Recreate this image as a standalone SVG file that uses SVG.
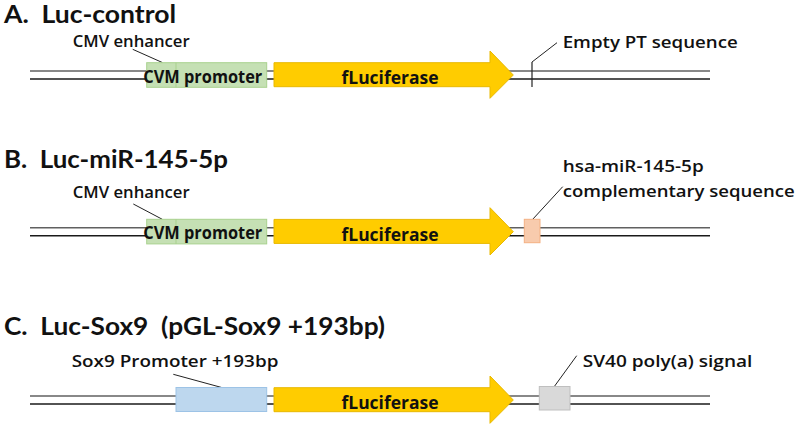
<svg xmlns="http://www.w3.org/2000/svg" width="800" height="427" viewBox="0 0 800 427">
<defs>
<style>
text{font-family:"Open Sans","Liberation Sans",sans-serif;fill:#111;white-space:pre}
.title{font-family:Lato,"Open Sans",sans-serif;font-size:24px;font-weight:700}
.lbl{font-size:16px;font-weight:600}
.box{font-size:17.5px;font-weight:700}
.s1{stroke:#606060;stroke-width:1.5}
.s2{stroke:#1a1a1a;stroke-width:1.5}
.lead{stroke:#222;stroke-width:1;fill:none}
.arrow{fill:#ffcc00;stroke:#e8b800;stroke-width:1}
.green{fill:#c5e0b4;stroke:#a9d18e;stroke-width:1}
.blue{fill:#bdd7ee;stroke:#9dc3e6;stroke-width:1}
.pink{fill:#f8cbad;stroke:#f4b183;stroke-width:1}
.gray{fill:#d9d9d9;stroke:#bfbfbf;stroke-width:1}
</style>
</defs>
<rect width="800" height="427" fill="#fff"/>

<g id="connectors">
<line class="s1" x1="30" y1="71" x2="710" y2="71"/>
<line class="s2" x1="30" y1="79" x2="710" y2="79"/>
<line class="s1" x1="30" y1="227.7" x2="710" y2="227.7"/>
<line class="s2" x1="30" y1="235.7" x2="710" y2="235.7"/>
<line class="s1" x1="30" y1="396" x2="710" y2="396"/>
<line class="s2" x1="30" y1="404" x2="710" y2="404"/>
<line class="lead" x1="132.7" y1="49.3" x2="162.3" y2="62.5"/>
<line class="lead" x1="532" y1="62" x2="557" y2="42.7"/>
<line class="lead" x1="133.3" y1="204" x2="162.3" y2="219.3"/>
<line class="lead" x1="532.7" y1="219.3" x2="562.7" y2="186.7"/>
<line class="lead" x1="173.3" y1="374.3" x2="221.7" y2="387.5"/>
<line class="lead" x1="554.3" y1="386.5" x2="576.7" y2="355.7"/>
</g>

<text class="title" x="4" y="23" textLength="172" lengthAdjust="spacingAndGlyphs">A.  Luc-control</text>
<text class="title" x="4" y="168" textLength="224" lengthAdjust="spacingAndGlyphs">B.  Luc-miR-145-5p</text>
<text class="title" x="4" y="335" textLength="381" lengthAdjust="spacingAndGlyphs">C.  Luc-Sox9  (pGL-Sox9 +193bp)</text>

<g id="a-promoter">
<rect class="green" x="146.7" y="62.7" width="120" height="24.6"/>
<line x1="176" y1="62.7" x2="176" y2="87.3" stroke="#a9d18e" stroke-width="1"/>
<text class="box" x="143.3" y="82.7" textLength="119" lengthAdjust="spacingAndGlyphs">CVM promoter</text>
<text class="lbl" x="72.7" y="46.7" textLength="117" lengthAdjust="spacingAndGlyphs">CMV enhancer</text>
</g>
<g id="a-luciferase">
<path class="arrow" d="M274,62.7 H490 V51 L513.3,75 L490,98.3 V86.7 H274 Z"/>
<text class="box" x="390" y="84.3" text-anchor="middle" textLength="97" lengthAdjust="spacingAndGlyphs">fLuciferase</text>
</g>
<g id="a-pt">
<line x1="532" y1="62" x2="532" y2="87" stroke="#222" stroke-width="1.2"/>
<text class="lbl" x="562.7" y="48" textLength="175" lengthAdjust="spacingAndGlyphs">Empty PT sequence</text>
</g>

<g id="b-promoter">
<rect class="green" x="146.7" y="219.3" width="120" height="24.6"/>
<line x1="176" y1="219.3" x2="176" y2="243.9" stroke="#a9d18e" stroke-width="1"/>
<text class="box" x="143.3" y="239.4" textLength="119" lengthAdjust="spacingAndGlyphs">CVM promoter</text>
<text class="lbl" x="72.7" y="198.3" textLength="117" lengthAdjust="spacingAndGlyphs">CMV enhancer</text>
</g>
<g id="b-luciferase">
<path class="arrow" d="M274,219.4 H490 V207.7 L513.3,231.7 L490,255 V243.4 H274 Z"/>
<text class="box" x="390" y="241" text-anchor="middle" textLength="97" lengthAdjust="spacingAndGlyphs">fLuciferase</text>
</g>
<g id="b-mir">
<rect class="pink" x="524.3" y="219.3" width="15.7" height="23.4"/>
<text class="lbl" x="562.7" y="171.7" textLength="141" lengthAdjust="spacingAndGlyphs">hsa-miR-145-5p</text>
<text class="lbl" x="562.7" y="196.7" textLength="232" lengthAdjust="spacingAndGlyphs">complementary sequence</text>
</g>

<g id="c-promoter">
<rect class="blue" x="176" y="387.5" width="90.7" height="24"/>
<text class="lbl" x="71.7" y="367.3" textLength="206.7" lengthAdjust="spacingAndGlyphs">Sox9 Promoter +193bp</text>
</g>
<g id="c-luciferase">
<path class="arrow" d="M274,387.7 H490 V376 L513.3,400 L490,423.3 V411.7 H274 Z"/>
<text class="box" x="390" y="409.3" text-anchor="middle" textLength="97" lengthAdjust="spacingAndGlyphs">fLuciferase</text>
</g>
<g id="c-sv40">
<rect class="gray" x="539.3" y="386.5" width="30.7" height="23.5"/>
<text class="lbl" x="582.7" y="367.3" textLength="169.7" lengthAdjust="spacingAndGlyphs">SV40 poly(a) signal</text>
</g>
</svg>
